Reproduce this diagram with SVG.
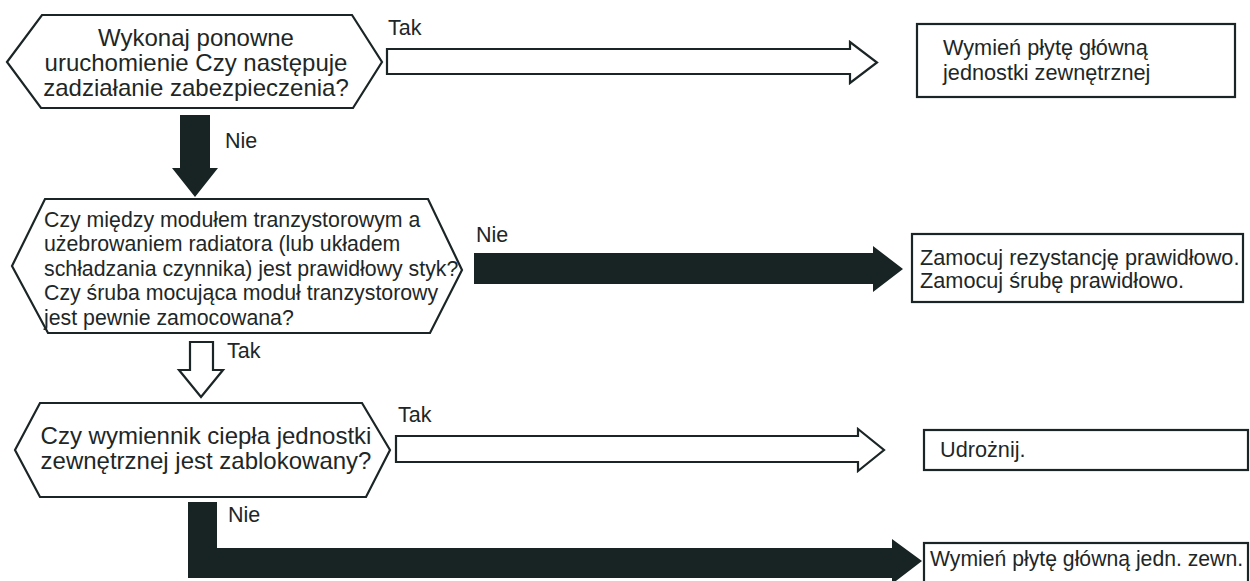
<svg xmlns="http://www.w3.org/2000/svg" width="1250" height="581" viewBox="0 0 1250 581">
  <style>
    .shape { fill: #ffffff; stroke: #1b2525; stroke-width: 2.2; stroke-linejoin: miter; }
    .open { fill: #ffffff; stroke: #1b2525; stroke-width: 2.2; }
    .solid { fill: #182323; stroke: none; }
    text { font-family: "Liberation Sans", Arial, sans-serif; fill: #1e2727; }
    .q { font-size: 24px; text-anchor: middle; }
    .q2 { font-size: 21.3px; }
    .act { font-size: 21.7px; }
    .act-s { font-size: 21.2px; }
    .lbl { font-size: 21.5px; }
  </style>

  <!-- connectors -->
  <g id="connectors">
    <!-- q1 yes -> replace board -->
    <polygon class="open" points="387,49 850,49 850,42 877,62.5 850,83 850,74 387,74"/>
    <text class="lbl" x="388" y="35">Tak</text>
    <!-- q1 no -> q2 -->
    <polygon class="solid" points="180,115 210,115 210,168 218,168 195,197 172,168 180,168"/>
    <text class="lbl" x="225" y="148">Nie</text>
    <!-- q2 no -> fix mounting -->
    <polygon class="solid" points="474,253 873,253 873,246 903,269 873,292 873,284 474,284"/>
    <text class="lbl" x="476" y="242">Nie</text>
    <!-- q2 yes -> q3 -->
    <polygon class="open" points="190,342 213,342 213,370 223,370 201,397 179,370 190,370"/>
    <text class="lbl" x="227" y="358">Tak</text>
    <!-- q3 yes -> unblock -->
    <polygon class="open" points="396,436 858,436 858,429 884,450 858,471 858,462 396,462"/>
    <text class="lbl" x="398" y="422">Tak</text>
    <!-- q3 no -> replace board -->
    <polygon class="solid" points="188,502 217,502 217,548 892,548 892,539 922,561 892,584 892,578 188,578"/>
    <text class="lbl" x="228" y="522">Nie</text>
  </g>

  <!-- decision: restart -->
  <g id="q1">
    <polygon class="shape" points="7,62 42,15 352,15 382,62 353,108 41,108"/>
    <text class="q" x="196" y="46">Wykonaj ponowne</text>
    <text class="q" x="196" y="71">uruchomienie Czy następuje</text>
    <text class="q" x="196" y="96">zadziałanie zabezpieczenia?</text>
  </g>

  <!-- action: replace outdoor board -->
  <g id="a1">
    <rect class="shape" x="917" y="24" width="318" height="73"/>
    <text class="act" x="943" y="55">Wymień płytę główną</text>
    <text class="act" x="943" y="80">jednostki zewnętrznej</text>
  </g>

  <!-- decision: transistor module contact -->
  <g id="q2">
    <polygon class="shape" points="12,266 45,199 428,199 462,270 430,333 48,333"/>
    <text class="q2" x="44" y="227">Czy między modułem tranzystorowym a</text>
    <text class="q2" x="44" y="251">użebrowaniem radiatora (lub układem</text>
    <text class="q2" x="44" y="276">schładzania czynnika) jest prawidłowy styk?</text>
    <text class="q2" x="44" y="300">Czy śruba mocująca moduł tranzystorowy</text>
    <text class="q2" x="44" y="325">jest pewnie zamocowana?</text>
  </g>

  <!-- action: fix mounting -->
  <g id="a2">
    <rect class="shape" x="912" y="234" width="331" height="68"/>
    <text class="act" x="920" y="265">Zamocuj rezystancję prawidłowo.</text>
    <text class="act" x="920" y="288">Zamocuj śrubę prawidłowo.</text>
  </g>

  <!-- decision: heat exchanger blocked -->
  <g id="q3">
    <polygon class="shape" points="15,450 40,403 362,403 390,450 366,497 40,497"/>
    <text class="q" x="206" y="444">Czy wymiennik ciepła jednostki</text>
    <text class="q" x="206" y="469">zewnętrznej jest zablokowany?</text>
  </g>

  <!-- action: unblock -->
  <g id="a3">
    <rect class="shape" x="924" y="430" width="324" height="40"/>
    <text class="act" x="940" y="457">Udrożnij.</text>
  </g>

  <!-- action: replace outdoor board (short) -->
  <g id="a4">
    <rect class="shape" x="924" y="543" width="324" height="50"/>
    <text class="act-s" x="930" y="566">Wymień płytę główną jedn. zewn.</text>
  </g>
</svg>
